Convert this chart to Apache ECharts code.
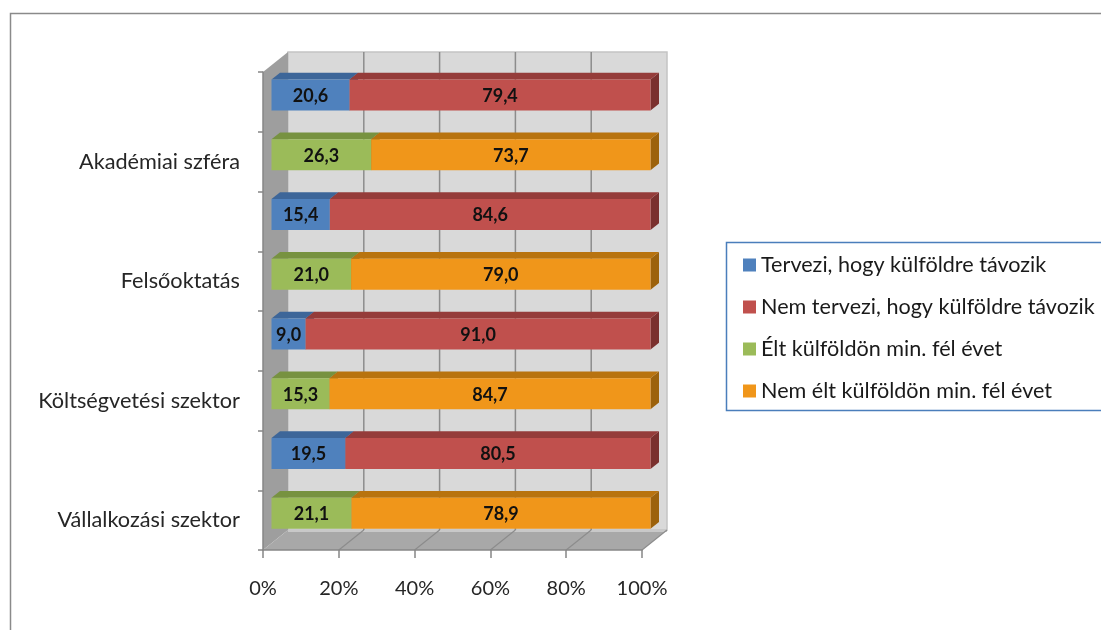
<!DOCTYPE html>
<html><head><meta charset="utf-8">
<script src="https://cdn.jsdelivr.net/npm/echarts@6/dist/echarts.min.js"></script>
<style>html,body{margin:0;padding:0;background:#fff}#c{width:1101px;height:630px}</style>
</head><body><div id="c"></div>
<script>
const categories = ['', 'Akadémiai szféra', '', 'Felsőoktatás', '', 'Költségvetési szektor', '', 'Vállalkozási szektor'];
const seriesNames = ['Tervezi, hogy külföldre távozik', 'Nem tervezi, hogy külföldre távozik', 'Élt külföldön min. fél évet', 'Nem élt külföldön min. fél évet'];
const tervezi = [20.6, null, 15.4, null, 9.0, null, 19.5, null];
const nemTervezi = [79.4, null, 84.6, null, 91.0, null, 80.5, null];
const elt = [null, 26.3, null, 21.0, null, 15.3, null, 21.1];
const nemElt = [null, 73.7, null, 79.0, null, 84.7, null, 78.9];
const xTicks = [0, 20, 40, 60, 80, 100];

const FONT = 'Lato';
const DX = 25, DY = -20;           // depth offset of the 3D box
const BF = 0.34, BB = 0.34;        // bar front depth fraction, bar thickness fraction
const colors = [
  {front: '#4f81bd', top: '#3d6699', side: '#2f5077'},
  {front: '#c0504d', top: '#953c3a', side: '#7a302e'},
  {front: '#9bbb59', top: '#779240', side: '#5f7533'},
  {front: '#f0961a', top: '#b8730f', side: '#9c620c'}
];
const valueSets = [tervezi, nemTervezi, elt, nemElt];
const baseSets = [null, tervezi, null, elt];

function fmt(v) { return v.toFixed(1).replace('.', ','); }

function makeData(k) {
  const vals = valueSets[k], bases = baseSets[k];
  const out = [];
  vals.forEach((v, i) => {
    if (v == null) return;
    const b = bases ? (bases[i] || 0) : 0;
    out.push([i, b, b + v, v]);
  });
  return out;
}

function barRender(k) {
  const col = colors[k];
  return function (params, api) {
    const ci = api.value(0), s = api.value(1), e = api.value(2), v = api.value(3);
    const band = api.size([0, 1])[1];
    const c0 = api.coord([s, ci]), c1 = api.coord([e, ci]);
    const h = band * 0.52;
    const fx = DX * BF, fy = DY * BF, bx = DX * BB, by = DY * BB;
    const x0 = c0[0] + fx, x1 = c1[0] + fx, yc = c0[1] + fy;
    const y0 = yc - h / 2, y1 = yc + h / 2;
    return {
      type: 'group',
      children: [
        {type: 'polygon', shape: {points: [[x1, y0], [x1 + bx, y0 + by], [x1 + bx, y1 + by], [x1, y1]]}, style: {fill: col.side}},
        {type: 'polygon', shape: {points: [[x0, y0], [x1, y0], [x1 + bx, y0 + by], [x0 + bx, y0 + by]]}, style: {fill: col.top}},
        {type: 'rect', shape: {x: x0, y: y0, width: x1 - x0, height: h}, style: {fill: col.front}},
        {type: 'text', x: (x0 + x1) / 2, y: yc + 1, style: {text: fmt(v), fill: '#111', font: 'bold 18px ' + FONT, align: 'center', verticalAlign: 'middle'}}
      ]
    };
  };
}

function wallRender(params, api) {
  const cs = params.coordSys;
  const gx = cs.x, gy = cs.y, gw = cs.width, gh = cs.height;
  const ch = [
    {type: 'rect', shape: {x: gx + DX, y: gy + DY, width: gw, height: gh}, style: {fill: '#d9d9d9', stroke: '#c4c4c4', lineWidth: 1.5}},
    {type: 'polygon', shape: {points: [[gx, gy], [gx + DX, gy + DY], [gx + DX, gy + gh + DY], [gx, gy + gh]]}, style: {fill: '#9e9e9e'}},
    {type: 'polygon', shape: {points: [[gx, gy + gh], [gx + DX, gy + gh + DY], [gx + gw + DX, gy + gh + DY], [gx + gw, gy + gh]]}, style: {fill: '#a8a8a8'}},
    {type: 'line', shape: {x1: gx + DX, y1: gy + gh + DY + 1, x2: gx + gw + DX, y2: gy + gh + DY + 1}, style: {stroke: '#c8c8c8', lineWidth: 2}}
  ];
  xTicks.forEach(t => {
    if (t === 0) return;
    const x = api.coord([t, 0])[0];
    if (t !== 100) {
      ch.push({type: 'line', shape: {x1: x + DX, y1: gy + DY, x2: x + DX, y2: gy + gh + DY}, style: {stroke: '#8c8c8c', lineWidth: 1.5}});
    }
    ch.push({type: 'line', shape: {x1: x, y1: gy + gh, x2: x + DX, y2: gy + gh + DY}, style: {stroke: '#8c8c8c', lineWidth: 1.2}});
  });
  return {type: 'group', children: ch};
}

const chart = echarts.init(document.getElementById('c'), null, {renderer: 'canvas'});
const series = [{
  type: 'custom', name: 'walls', silent: true, z: 1,
  data: [[0, 0]], encode: {x: 0, y: 1},
  renderItem: wallRender
}];
for (let k = 0; k < 4; k++) {
  series.push({
    type: 'custom', name: seriesNames[k], z: 2 + k,
    itemStyle: {color: colors[k].front},
    data: makeData(k),
    encode: {x: [1, 2], y: 0},
    renderItem: barRender(k)
  });
}

chart.setOption({
  animation: false,
  backgroundColor: '#fff',
  graphic: [
    {type: 'rect', shape: {x: 10.5, y: 13.5, width: 1200, height: 700}, style: {fill: 'none', stroke: '#8a8a8a', lineWidth: 1.5}, z: -10},
    {type: 'rect', shape: {x: 726.5, y: 242.5, width: 400, height: 168}, style: {fill: '#fff', stroke: '#4a7ebb', lineWidth: 1.5}, z: -5}
  ],
  legend: {
    data: seriesNames,
    orient: 'vertical',
    left: 738, top: 249,
    icon: 'rect', itemWidth: 13, itemHeight: 13, itemGap: 20,
    textStyle: {fontFamily: FONT, fontSize: 21.6, color: '#1a1a1a'}
  },
  grid: {left: 263, top: 72, width: 379, height: 478, containLabel: false},
  xAxis: {
    type: 'value', min: 0, max: 100, interval: 20, z: 10,
    axisLine: {show: true, lineStyle: {color: '#868686', width: 1.5}},
    axisTick: {show: true, length: 8, lineStyle: {color: '#868686', width: 1.5}},
    splitLine: {show: false},
    axisLabel: {formatter: '{value}%', margin: 29, fontFamily: FONT, fontSize: 20, color: '#262626'}
  },
  yAxis: {
    type: 'category', data: categories, inverse: true, z: 10,
    axisLine: {show: true, lineStyle: {color: '#868686', width: 1.5}},
    axisTick: {show: true, interval: 0, length: 5, alignWithLabel: false, lineStyle: {color: '#868686', width: 1.5}},
    axisLabel: {interval: 0, margin: 23, fontFamily: FONT, fontSize: 21.7, color: '#262626'}
  },
  series: series
});
</script></body></html>
